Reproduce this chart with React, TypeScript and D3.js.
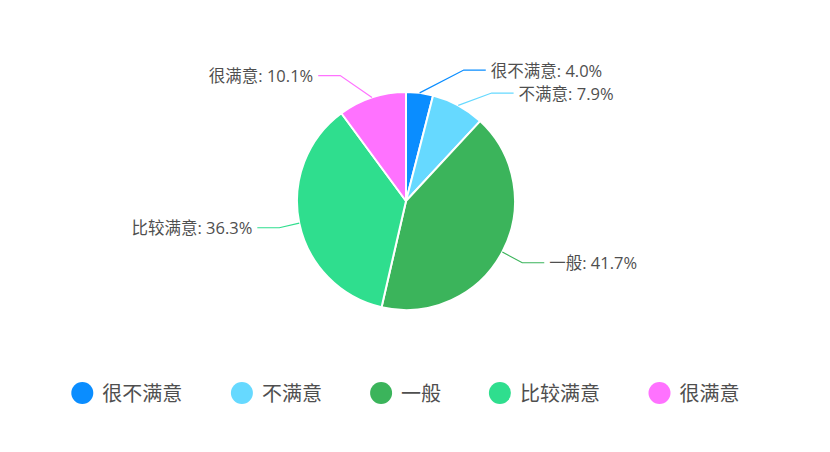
import * as d3 from 'd3';

const categories = ['很不满意', '不满意', '一般', '比较满意', '很满意'];
const percents = [4.0, 7.9, 41.7, 36.3, 10.1];
const colors = ['#0A8DFF', '#66D9FF', '#3BB45B', '#2FDE8E', '#FF72FF'];

const width = 830;
const height = 452;
const cx = 406;
const cy = 201;
const radius = 109;
const labelYRadius = 132;
const labelRadius = 156;
const labelSpacing = 23;
const labelFontSize = 16.5;
const fontFamily = '"Open Sans", "Noto Sans CJK SC", "Noto Sans", sans-serif';
const textColor = '#4f4f4f';

interface Slice {
    arc: d3.PieArcDatum<number>;
    index: number;
    mid: number;
    side: number;
    y: number;
}

function layoutLabels(arcs: d3.PieArcDatum<number>[]): Slice[] {
    const slices: Slice[] = arcs.map((a, index) => {
        const mid = (a.startAngle + a.endAngle) / 2;
        return {
            arc: a,
            index,
            mid,
            side: Math.sin(mid) >= 0 ? 1 : -1,
            y: cy - labelYRadius * Math.cos(mid),
        };
    });
    // push overlapping labels down, one side at a time
    [1, -1].forEach((side) => {
        const group = slices.filter((s) => s.side === side).sort((a, b) => a.y - b.y);
        for (let i = 1; i < group.length; i++) {
            if (group[i].y - group[i - 1].y < labelSpacing) {
                group[i].y = group[i - 1].y + labelSpacing;
            }
        }
    });
    return slices;
}

function Legend() {
    const r = 11;
    const gapText = 9;
    const gapItem = 47;
    const fs = 20;
    const widths = categories.map((c) => 2 * r + gapText + c.length * fs * 1.02);
    const total = d3.sum(widths) + gapItem * (categories.length - 1);
    let x = cx - total / 2;
    const y = 393;
    return (
        <g>
            {categories.map((c, i) => {
                const x0 = x;
                x += widths[i] + gapItem;
                return (
                    <g key={c} transform={`translate(${x0},${y})`}>
                        <circle cx={r} cy={0} r={r} fill={colors[i]} />
                        <text
                            x={2 * r + gapText}
                            y={0}
                            dominantBaseline="central"
                            fontSize={fs}
                            fill={textColor}
                            fontFamily={fontFamily}
                        >
                            {c}
                        </text>
                    </g>
                );
            })}
        </g>
    );
}

export default function App() {
    const pie = d3.pie<number>().sort(null).value((d) => d);
    const arcs = pie(percents);
    const arcGen = d3.arc<d3.PieArcDatum<number>>().innerRadius(0).outerRadius(radius);
    const slices = layoutLabels(arcs);

    return (
        <svg
            width={width}
            height={height}
            style={{ position: 'absolute', left: 0, top: 0, background: '#fff' }}
        >
            <g transform={`translate(${cx},${cy})`}>
                {arcs.map((a, i) => (
                    <path
                        key={categories[i]}
                        d={arcGen(a) || ''}
                        fill={colors[i]}
                        stroke="#fff"
                        strokeWidth={2}
                        strokeLinejoin="round"
                    />
                ))}
            </g>
            {slices.map((s) => {
                const sx = cx + radius * Math.sin(s.mid);
                const sy = cy - radius * Math.cos(s.mid);
                const dy = s.y - cy;
                const dx = Math.sqrt(Math.max(0, labelRadius * labelRadius - dy * dy));
                const tx = cx + s.side * dx;
                const endX = tx - s.side * 5;
                const bendX = tx - s.side * 27;
                const line = d3.line()([
                    [sx, sy],
                    [bendX, s.y],
                    [endX, s.y],
                ]);
                return (
                    <g key={categories[s.index]}>
                        <path d={line || ''} fill="none" stroke={colors[s.index]} strokeWidth={1.2} />
                        <text
                            x={tx}
                            y={s.y}
                            textAnchor={s.side > 0 ? 'start' : 'end'}
                            dominantBaseline="central"
                            fontSize={labelFontSize}
                            fill={textColor}
                            fontFamily={fontFamily}
                        >
                            {`${categories[s.index]}: ${percents[s.index].toFixed(1)}%`}
                        </text>
                    </g>
                );
            })}
            <Legend />
        </svg>
    );
}
